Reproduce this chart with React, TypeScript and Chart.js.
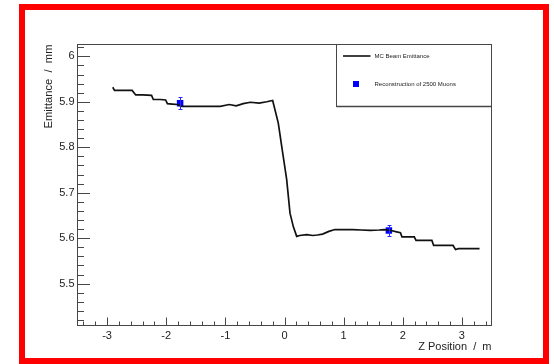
import React, { useEffect, useRef } from "react";
import { Chart, registerables } from "chart.js";

Chart.register(...registerables);

// Simulated beam emittance along the channel (z in m, emittance in mm)
const mcZ = [
  -2.904, -2.874, -2.7, -2.576, -2.516, -2.4, -2.248, -2.218, -2.1, -2.01, -1.98,
  -1.9, -1.8, -1.74, -1.5, -1.3, -1.085, -0.936, -0.817, -0.698, -0.578, -0.429,
  -0.3, -0.2, -0.105, -0.047, 0.037, 0.093, 0.15, 0.206, 0.256, 0.376, 0.48,
  0.555, 0.644, 0.75, 0.853, 1.0, 1.151, 1.3, 1.449, 1.6, 1.688, 1.8, 1.896,
  1.96, 1.986, 2.1, 2.194, 2.224, 2.35, 2.492, 2.522, 2.7, 2.85, 2.892, 2.94,
  3.1, 3.298,
];
const mcEmit = [
  5.932, 5.925, 5.925, 5.925, 5.915, 5.915, 5.914, 5.905, 5.905, 5.904, 5.896,
  5.895, 5.894, 5.89, 5.89, 5.89, 5.89, 5.894, 5.891, 5.896, 5.899, 5.897,
  5.9, 5.903, 5.853, 5.802, 5.729, 5.655, 5.625, 5.604, 5.606, 5.608, 5.606,
  5.607, 5.609, 5.615, 5.619, 5.619, 5.619, 5.618, 5.617, 5.618, 5.619, 5.617,
  5.614, 5.612, 5.603, 5.603, 5.603, 5.595, 5.595, 5.595, 5.584, 5.584, 5.584,
  5.575, 5.577, 5.577, 5.577,
];

// Reconstructed emittance from 2500 muons, with uncertainties
const recoZ = [-1.765, 1.765];
const recoEmit = [5.897, 5.617];
const recoErr = [0.013, 0.012];

const xTicks = [-3, -2, -1, 0, 1, 2, 3];
const yTicks = [5.5, 5.6, 5.7, 5.8, 5.9, 6];
const legendLabels = ["MC Beam Emittance", "Reconstruction of 2500 Muons"];

const FONT = "'Liberation Sans', Arial, Helvetica, sans-serif";
const AXIS_COLOR = "#474747";
const TEXT_COLOR = "#222222";

// Frame with ROOT-style inward major/minor ticks
const frameTicks = {
  id: "frameTicks",
  afterDraw(chart: any) {
    const { ctx, chartArea: a, scales } = chart;
    const x = scales.x;
    const y = scales.y;
    ctx.save();
    ctx.strokeStyle = AXIS_COLOR;
    ctx.lineWidth = 1;
    ctx.strokeRect(a.left, a.top, a.right - a.left, a.bottom - a.top);

    const yStep = (yTicks[1] - yTicks[0]) / 5;
    for (let k = -15; k <= (yTicks.length - 1) * 5 + 15; k++) {
      const v = yTicks[0] + k * yStep;
      const p = y.getPixelForValue(v);
      if (p < a.top + 1 || p > a.bottom - 1) continue;
      const len = k % 5 === 0 ? 12.5 : 6.5;
      const py = Math.round(p) + 0.5;
      ctx.beginPath();
      ctx.moveTo(a.left, py);
      ctx.lineTo(a.left + len, py);
      ctx.stroke();
    }

    const xStep = (xTicks[1] - xTicks[0]) / 5;
    for (let k = -15; k <= (xTicks.length - 1) * 5 + 15; k++) {
      const v = xTicks[0] + k * xStep;
      const p = x.getPixelForValue(v);
      if (p < a.left + 1 || p > a.right - 1) continue;
      const len = k % 5 === 0 ? 8 : 4;
      const px = Math.round(p) + 0.5;
      ctx.beginPath();
      ctx.moveTo(px, a.bottom);
      ctx.lineTo(px, a.bottom - len);
      ctx.stroke();
    }
    ctx.restore();
  },
};

// Vertical error bars on the reconstructed points
const errorBars = {
  id: "errorBars",
  afterDatasetsDraw(chart: any) {
    const { ctx, scales } = chart;
    const x = scales.x;
    const y = scales.y;
    ctx.save();
    ctx.strokeStyle = "#2a2aff";
    ctx.lineWidth = 1;
    recoZ.forEach((z, i) => {
      const px = Math.round(x.getPixelForValue(z)) + 0.5;
      const top = y.getPixelForValue(recoEmit[i] + recoErr[i]);
      const bot = y.getPixelForValue(recoEmit[i] - recoErr[i]);
      ctx.beginPath();
      ctx.moveTo(px, top);
      ctx.lineTo(px, bot);
      ctx.moveTo(px - 2, Math.round(top) + 0.5);
      ctx.lineTo(px + 2, Math.round(top) + 0.5);
      ctx.moveTo(px - 2, Math.round(bot) + 0.5);
      ctx.lineTo(px + 2, Math.round(bot) + 0.5);
      ctx.stroke();
    });
    ctx.restore();
  },
};

// Boxed legend in the upper-right corner of the frame
const boxLegend = {
  id: "boxLegend",
  afterDraw(chart: any) {
    const { ctx, chartArea: a } = chart;
    const w = a.right - a.left;
    const left = Math.round(a.left + w * 0.625) + 0.5;
    const top = a.top;
    const right = a.right;
    const bottom = a.top + 62;
    ctx.save();
    ctx.fillStyle = "#ffffff";
    ctx.fillRect(left, top, right - left, bottom - top);
    ctx.strokeStyle = AXIS_COLOR;
    ctx.lineWidth = 1;
    ctx.strokeRect(left, top, right - left, bottom - top);
    ctx.lineWidth = 1.5;
    ctx.beginPath();
    ctx.moveTo(left, bottom);
    ctx.lineTo(right, bottom);
    ctx.stroke();

    const row1 = top + 11.5;
    const row2 = top + 39.5;
    ctx.strokeStyle = "#111111";
    ctx.lineWidth = 1.6;
    ctx.beginPath();
    ctx.moveTo(left + 6.5, row1);
    ctx.lineTo(left + 34, row1);
    ctx.stroke();

    ctx.fillStyle = "#0000ff";
    ctx.fillRect(left + 16.5, row2 - 3, 6, 6);

    ctx.fillStyle = TEXT_COLOR;
    ctx.font = `6px ${FONT}`;
    ctx.textBaseline = "middle";
    ctx.textAlign = "left";
    ctx.fillText(legendLabels[0], left + 38, row1);
    ctx.fillText(legendLabels[1], left + 38, row2);
    ctx.restore();
  },
};

export default function App() {
  const canvasRef = useRef<HTMLCanvasElement | null>(null);

  useEffect(() => {
    const canvas = canvasRef.current;
    if (!canvas) return;
    const chart = new Chart(canvas, {
      type: "line",
      data: {
        datasets: [
          {
            label: legendLabels[0],
            data: mcZ.map((z, i) => ({ x: z, y: mcEmit[i] })),
            borderColor: "#111111",
            borderWidth: 1.7,
            pointRadius: 0,
            tension: 0,
            fill: false,
          },
          {
            type: "scatter",
            label: legendLabels[1],
            data: recoZ.map((z, i) => ({ x: z, y: recoEmit[i] })),
            pointStyle: "rect",
            pointRadius: 4.6,
            backgroundColor: "#0000ff",
            borderColor: "#0000ff",
            borderWidth: 0,
            showLine: false,
          } as any,
        ],
      },
      options: {
        responsive: false,
        devicePixelRatio: 1,
        animation: false,
        layout: { padding: { left: 0, top: 44.5, right: 62.5, bottom: 0 } },
        plugins: {
          legend: { display: false },
          tooltip: { enabled: false },
        },
        scales: {
          x: {
            type: "linear",
            min: -3.5,
            max: 3.5,
            afterBuildTicks: (s: any) => {
              s.ticks = xTicks.map((v) => ({ value: v }));
            },
            afterFit: (s: any) => {
              s.height = 38.5;
            },
            grid: { display: false, drawTicks: false },
            border: { display: false },
            ticks: {
              color: TEXT_COLOR,
              font: { family: FONT, size: 11 },
              padding: 4,
              maxRotation: 0,
              autoSkip: false,
              callback: (v: any) => String(v),
            },
            title: {
              display: true,
              text: "Z Position  /  m",
              align: "end",
              color: TEXT_COLOR,
              font: { family: FONT, size: 11 },
              padding: { top: 0, bottom: 10 },
            },
          },
          y: {
            type: "linear",
            min: 5.408,
            max: 6.026,
            afterBuildTicks: (s: any) => {
              s.ticks = yTicks.map((v) => ({ value: v }));
            },
            afterFit: (s: any) => {
              s.width = 77.5;
            },
            grid: { display: false, drawTicks: false },
            border: { display: false },
            ticks: {
              color: TEXT_COLOR,
              font: { family: FONT, size: 11 },
              padding: 3,
              autoSkip: false,
              callback: (v: any) => String(Number(Number(v).toFixed(1))),
            },
            title: {
              display: true,
              text: "Emittance  /  mm",
              align: "end",
              color: TEXT_COLOR,
              font: { family: FONT, size: 11.2 },
              padding: { top: 42, bottom: 0 },
            },
          },
        },
      },
      plugins: [frameTicks, errorBars, boxLegend],
    });
    return () => chart.destroy();
  }, []);

  return (
    <div
      style={{
        position: "fixed",
        left: 0,
        top: 0,
        width: 554,
        height: 364,
        background: "#ffffff",
        overflow: "hidden",
      }}
    >
      <canvas
        ref={canvasRef}
        width={554}
        height={364}
        style={{ position: "absolute", left: 0, top: 0, width: 554, height: 364 }}
      />
      <div
        style={{
          position: "absolute",
          left: 19,
          top: 4,
          width: 530,
          height: 360,
          border: "6px solid #ff0000",
          boxSizing: "border-box",
          pointerEvents: "none",
        }}
      />
    </div>
  );
}
